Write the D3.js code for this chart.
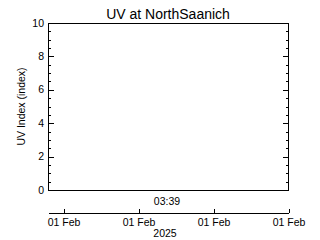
<!DOCTYPE html>
<html>
<head>
<meta charset="utf-8">
<script src="https://cdn.jsdelivr.net/npm/d3@7"></script>
<style>
  body { margin: 0; background: #fff; }
  svg { display: block; font-family: "Liberation Sans", "DejaVu Sans", sans-serif; }
</style>
</head>
<body>
<svg id="board" width="320" height="240"></svg>
<script>
// chart values
let chartTitle = 'UV at NorthSaanich'
let yTitle = 'UV Index (index)'
let yMajorTicks = [0, 2, 4, 6, 8, 10]
let yMinorTicks = [0.5, 1, 1.5, 2.5, 3, 3.5, 4.5, 5, 5.5, 6.5, 7, 7.5, 8.5, 9, 9.5]
let timeStart = new Date(2025, 1, 1, 3, 37, 48)
let timeEnd = new Date(2025, 1, 1, 3, 41, 0)
let timeTicks = [
    new Date(2025, 1, 1, 3, 38),
    new Date(2025, 1, 1, 3, 39),
    new Date(2025, 1, 1, 3, 40),
    new Date(2025, 1, 1, 3, 41)
]
let timeLabel = '03:39'
let yearLabel = '2025'

let board = d3.select('#board')
let font = 'Liberation Sans, sans-serif'

let plotLeft = 48, plotRight = 288, plotTop = 23, plotBottom = 190

let yScale = d3.scaleLinear().domain([0, 10]).range([plotBottom, plotTop])
let xScale = d3.scaleTime().domain([timeStart, timeEnd]).range([plotLeft, plotRight])

// plot frame
board.append('rect')
    .attr('x', plotLeft + 0.5)
    .attr('y', plotTop + 0.5)
    .attr('width', plotRight - plotLeft)
    .attr('height', plotBottom - plotTop)
    .attr('fill', 'none')
    .attr('stroke', '#000')
    .attr('shape-rendering', 'crispEdges')

// y ticks on both sides pointing inward (drawn as thin rects)
let drawTicks = (values, len) => {
    let g = board.append('g').attr('fill', '#000')
    g.selectAll('rect.l')
        .data(values)
        .enter()
        .append('rect')
        .attr('class', 'l')
        .attr('x', plotLeft)
        .attr('y', (d) => Math.round(yScale(d)))
        .attr('width', len)
        .attr('height', 1)
    g.selectAll('rect.r')
        .data(values)
        .enter()
        .append('rect')
        .attr('class', 'r')
        .attr('x', plotRight + 1 - len)
        .attr('y', (d) => Math.round(yScale(d)))
        .attr('width', len)
        .attr('height', 1)
}
drawTicks(yMajorTicks, 6)
drawTicks(yMinorTicks, 3)

// y labels on the left
board.append('g')
    .selectAll('text')
    .data(yMajorTicks)
    .enter()
    .append('text')
    .attr('x', plotLeft - 4)
    .attr('y', (d) => yScale(d))
    .attr('dy', '0.35em')
    .attr('text-anchor', 'end')
    .attr('font-size', 10.5)
    .attr('font-family', font)
    .text((d) => d)

// separate time axis below plot
let timeAxis = d3.axisBottom(xScale)
    .tickValues(timeTicks)
    .tickSizeInner(-4)
    .tickSizeOuter(0)
    .tickPadding(6)
    .tickFormat(d3.timeFormat('%d %b'))
let gTime = board.append('g')
    .attr('transform', 'translate(0.5,212.5)')
    .call(timeAxis)
gTime.selectAll('text').attr('font-size', 10.5).attr('font-family', font).attr('fill', '#000')
gTime.select('.domain').attr('stroke', '#000').attr('shape-rendering', 'crispEdges')
gTime.selectAll('line').attr('stroke', '#000').attr('shape-rendering', 'crispEdges')

// texts
board.append('text')
    .attr('x', (plotLeft + plotRight) / 2)
    .attr('y', 19)
    .attr('text-anchor', 'middle')
    .attr('font-size', 14)
    .attr('font-family', font)
    .text(chartTitle)

board.append('text')
    .attr('transform', 'translate(25,' + ((plotTop + plotBottom) / 2) + ') rotate(-90)')
    .attr('text-anchor', 'middle')
    .attr('font-size', 10.5)
    .attr('font-family', font)
    .text(yTitle)

board.append('text')
    .attr('x', (plotLeft + plotRight) / 2 - 1)
    .attr('y', 205)
    .attr('text-anchor', 'middle')
    .attr('font-size', 10.5)
    .attr('font-family', font)
    .text(timeLabel)

board.append('text')
    .attr('x', (plotLeft + plotRight) / 2 - 3)
    .attr('y', 237)
    .attr('text-anchor', 'middle')
    .attr('font-size', 10.5)
    .attr('font-family', font)
    .text(yearLabel)
</script>
</body>
</html>
